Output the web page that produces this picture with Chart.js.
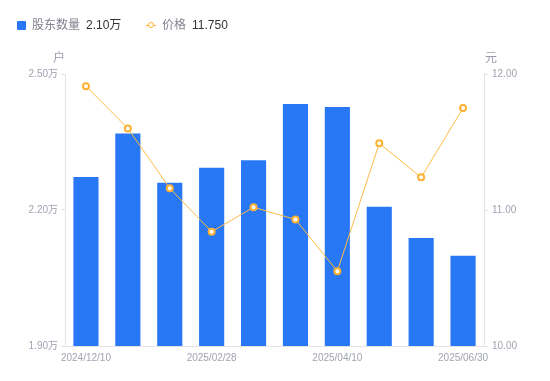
<!DOCTYPE html>
<html>
<head>
<meta charset="utf-8">
<script src="https://cdn.jsdelivr.net/npm/chart.js@4/dist/chart.umd.min.js"></script>
<style>
  html, body { margin: 0; padding: 0; background: #fff; }
  #wrap { position: relative; width: 550px; height: 381px; font-family: "Liberation Sans", "Noto Sans CJK SC", sans-serif; }
  #chart { position: absolute; left: 0; top: 0; }
  .lg { position: absolute; top: 16px; font-size: 12px; line-height: 18px; white-space: nowrap; }
  .lg .name { color: #80828f; }
  .lg .val { color: #333; margin-left: 6px; }
  .sq { display: inline-block; width: 9px; height: 9px; background: #2878f5; border-radius: 1px; margin-right: 6px; vertical-align: -1px; }
  .ln { display: inline-block; position: relative; width: 10px; height: 9px; margin-right: 6px; vertical-align: -1px; }
  .ln::before { content: ""; position: absolute; left: 0; right: 0; top: 4px; height: 1px; background: #ffb133; }
  .ln::after { content: ""; position: absolute; left: 2px; top: 1px; width: 4px; height: 4px; border: 1.5px solid #ffb133; border-radius: 50%; background: #fff; }
  .unit { position: absolute; top: 48px; font-size: 12px; color: #9a9cab; }
</style>
</head>
<body>
<div id="wrap">
  <canvas id="chart" width="550" height="381"></canvas>
  <div class="lg" style="left:17px"><span class="sq"></span><span class="name">股东数量</span><span class="val">2.10万</span></div>
  <div class="lg" style="left:146px"><span class="ln"></span><span class="name">价格</span><span class="val">11.750</span></div>
  <div class="unit" style="left:53px">户</div>
  <div class="unit" style="left:485px">元</div>
</div>
<script>
const dates = ['2024/12/10','2024/12/31','2025/01/20','2025/02/28','2025/03/10','2025/03/31','2025/04/10','2025/05/20','2025/06/10','2025/06/30'];
const holders = [2.273, 2.369, 2.260, 2.293, 2.310, 2.434, 2.427, 2.207, 2.138, 2.099];
const prices = [11.91, 11.60, 11.16, 10.84, 11.02, 10.93, 10.55, 11.49, 11.24, 11.75];
const holderTicks = [1.90, 2.20, 2.50];
const priceTicks = [10, 11, 12];
const shownLabels = [0, 3, 6, 9];

const tickColor = '#a0a3b1';
const axisColor = '#e3e3e3';
const font = {family: '"Liberation Sans", "Noto Sans CJK SC", sans-serif', size: 10};

new Chart(document.getElementById('chart'), {
  type: 'bar',
  data: {
    labels: dates,
    datasets: [
      {type: 'line', label: '价格', data: prices, yAxisID: 'yR', order: 0,
       borderColor: '#ffbb45', borderWidth: 1, pointRadius: 3, pointBorderWidth: 2,
       pointBackgroundColor: '#fff', pointBorderColor: '#ffb133', tension: 0},
      {label: '股东数量', data: holders, yAxisID: 'yL', order: 1,
       backgroundColor: '#2878f5', barPercentage: 0.6, categoryPercentage: 1}
    ]
  },
  options: {
    responsive: false,
    animation: false,
    layout: {padding: {top: 74, bottom: 0, left: 0, right: 0}},
    plugins: {legend: {display: false}, tooltip: {enabled: false}},
    scales: {
      x: {
        grid: {display: false, drawTicks: false},
        border: {display: true, color: axisColor},
        ticks: {
          autoSkip: false, maxRotation: 0, color: tickColor, font: font, padding: 6,
          callback: (v, i) => shownLabels.includes(i) ? dates[i] : ''
        },
        afterFit: s => { s.height = 35; }
      },
      yL: {
        position: 'left', min: 1.9, max: 2.5,
        afterBuildTicks: a => { a.ticks = holderTicks.map(v => ({value: v})); },
        grid: {drawOnChartArea: false, drawTicks: true, tickLength: 4, color: axisColor},
        border: {display: true, color: axisColor},
        ticks: {color: tickColor, font: font, padding: 3, callback: v => v.toFixed(2) + '万'},
        afterFit: s => { s.width = 65; }
      },
      yR: {
        position: 'right', min: 10, max: 12,
        afterBuildTicks: a => { a.ticks = priceTicks.map(v => ({value: v})); },
        grid: {drawOnChartArea: false, drawTicks: true, tickLength: 4, color: axisColor},
        border: {display: true, color: axisColor},
        ticks: {color: tickColor, font: font, padding: 4, callback: v => v.toFixed(2)},
        afterFit: s => { s.width = 66; }
      }
    }
  }
});
</script>
</body>
</html>
